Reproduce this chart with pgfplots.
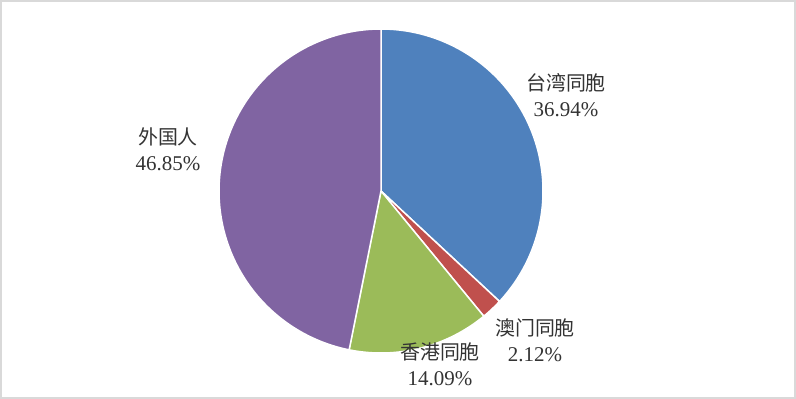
\documentclass[border=0pt]{standalone}
\usepackage{pgfplots}
\usepackage{pgfplotstable}
\pgfplotsset{compat=1.18}
\usepackage{fontspec}
\setmainfont{Liberation Serif}
\newfontfamily\cjk[Scale=0.95]{Noto Sans CJK SC}
\definecolor{cblue}{HTML}{4F81BD}
\definecolor{cred}{HTML}{C0504D}
\definecolor{cgreen}{HTML}{9BBB59}
\definecolor{cpurple}{HTML}{8064A2}
\definecolor{ctext}{HTML}{333333}
\definecolor{cframe}{HTML}{D9D9D9}
\pgfplotstableread{
name value
tw 36.94
mo 2.12
hk 14.09
fo 46.85
}\piedata
\begin{document}%
\begin{tikzpicture}
\pgfplotstablegetelem{0}{value}\of\piedata \let\vA\pgfplotsretval
\pgfplotstablegetelem{1}{value}\of\piedata \let\vB\pgfplotsretval
\pgfplotstablegetelem{2}{value}\of\piedata \let\vC\pgfplotsretval
\pgfplotstablegetelem{3}{value}\of\piedata \let\vD\pgfplotsretval
\pgfmathsetmacro\aA{90}
\pgfmathsetmacro\aB{\aA-3.6*\vA}
\pgfmathsetmacro\aC{\aB-3.6*\vB}
\pgfmathsetmacro\aD{\aC-3.6*\vC}
\pgfmathsetmacro\aE{\aD-3.6*\vD}
\begin{axis}[width=796bp, height=399bp, scale only axis,
  xmin=0, xmax=796, ymin=0, ymax=399, y dir=reverse,
  hide axis, clip=false]
\draw[cframe, line width=2bp] (axis cs:1,1) rectangle (axis cs:795,398);
\addplot[fill=cblue, draw=white, line width=1.5bp, domain=\aB:\aA, samples=120, variable=\t]
  ({381+162*cos(\t)}, {191-162*sin(\t)}) -- (axis cs:381,191) -- cycle;
\addplot[fill=cred, draw=white, line width=1.5bp, domain=\aC:\aB, samples=20, variable=\t]
  ({381+162*cos(\t)}, {191-162*sin(\t)}) -- (axis cs:381,191) -- cycle;
\addplot[fill=cgreen, draw=white, line width=1.5bp, domain=\aD:\aC, samples=60, variable=\t]
  ({381+162*cos(\t)}, {191-162*sin(\t)}) -- (axis cs:381,191) -- cycle;
\addplot[fill=cpurple, draw=white, line width=1.5bp, domain=\aE:\aD, samples=150, variable=\t]
  ({381+162*cos(\t)}, {191-162*sin(\t)}) -- (axis cs:381,191) -- cycle;
\begin{scope}[every node/.style={align=center, text=ctext, font=\fontsize{21bp}{26bp}\selectfont, inner sep=0pt}]
\node at (axis cs:566,95) {{\cjk 台湾同胞}\\36.94\%};
\node at (axis cs:168,149) {{\cjk 外国人}\\46.85\%};
\node at (axis cs:535,340) {{\cjk 澳门同胞}\\2.12\%};
\node at (axis cs:440,364) {{\cjk 香港同胞}\\14.09\%};
\end{scope}
\end{axis}
\end{tikzpicture}%
\end{document}
